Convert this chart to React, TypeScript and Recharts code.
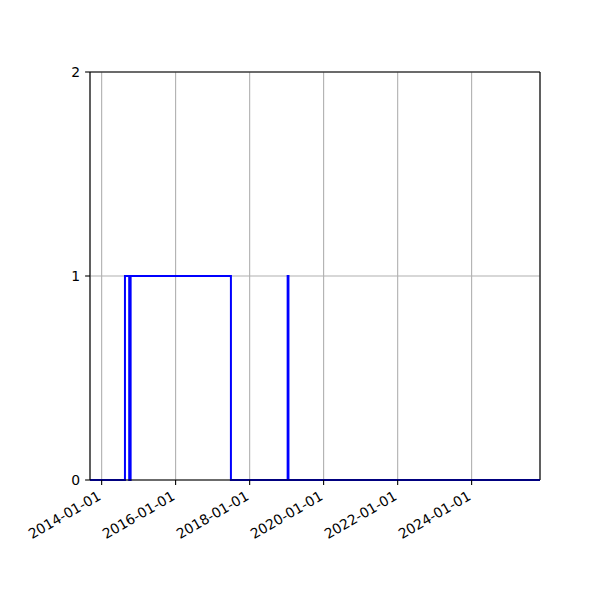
import React from 'react';
import { LineChart, Line, XAxis, YAxis, CartesianGrid, ReferenceLine } from 'recharts';

const dates = [
  '2013-09-08',
  '2014-08-19',
  '2014-09-30',
  '2014-10-14',
  '2017-06-30',
  '2019-01-11',
  '2019-01-19',
  '2025-11-06',
];
const values = [0, 1, 0, 1, 0, 1, 0, 0];
const tickDates = ['2014-01-01', '2016-01-01', '2018-01-01', '2020-01-01', '2022-01-01', '2024-01-01'];
const yTicks = [0, 1, 2];

const toTs = (s: string) => {
  const [y, m, d] = s.split('-').map(Number);
  return Date.UTC(y, m - 1, d);
};

const data = dates.map((d, i) => ({ t: toTs(d), v: values[i] }));
const xTicks = tickDates.map(toTs);
const xDomain = [toTs(dates[0]), toTs(dates[dates.length - 1])];

const fmt = (t: number) => {
  const d = new Date(t);
  const p = (n: number) => String(n).padStart(2, '0');
  return `${d.getUTCFullYear()}-${p(d.getUTCMonth() + 1)}-${p(d.getUTCDate())}`;
};

const FONT = 'DejaVu Sans';

const XTick = (props: any) => {
  const { x, y, payload } = props;
  return (
    <text
      transform={`translate(${x - 5},${y + 3}) rotate(-30)`}
      textAnchor="end"
      dy="0.75em"
      fontFamily={FONT}
      fontSize={13.9}
      fill="#000"
    >
      {fmt(payload.value)}
    </text>
  );
};

const YTick = (props: any) => {
  const { x, y, payload } = props;
  return (
    <text x={x - 3} y={y} dy="0.36em" textAnchor="end" fontFamily={FONT} fontSize={13.9} fill="#000">
      {payload.value}
    </text>
  );
};

export default function App() {
  return (
    <div style={{ position: 'absolute', left: 0, top: 0, width: 600, height: 600, background: '#fff' }}>
      <LineChart width={600} height={600} data={data} margin={{ top: 72, right: 60, bottom: 40, left: 50 }}>
        <CartesianGrid stroke="#b0b0b0" strokeWidth={1.1} />
        <XAxis
          dataKey="t"
          type="number"
          scale="linear"
          domain={xDomain}
          ticks={xTicks}
          interval={0}
          allowDataOverflow
          height={80}
          tickSize={4.9}
          tickLine={{ stroke: '#000', strokeWidth: 1.1 }}
          axisLine={{ stroke: '#000', strokeWidth: 1.1 }}
          tick={<XTick />}
        />
        <YAxis
          type="number"
          domain={[0, 2]}
          ticks={yTicks}
          interval={0}
          width={40}
          tickSize={4.9}
          tickLine={{ stroke: '#000', strokeWidth: 1.1 }}
          axisLine={{ stroke: '#000', strokeWidth: 1.1 }}
          tick={<YTick />}
        />
        <ReferenceLine y={2} stroke="#000" strokeWidth={1.1} ifOverflow="visible" />
        <ReferenceLine x={xDomain[1]} stroke="#000" strokeWidth={1.1} ifOverflow="visible" />
        <Line
          type="stepAfter"
          dataKey="v"
          stroke="#0000ff"
          strokeWidth={2}
          dot={false}
          activeDot={false}
          isAnimationActive={false}
        />
      </LineChart>
    </div>
  );
}
